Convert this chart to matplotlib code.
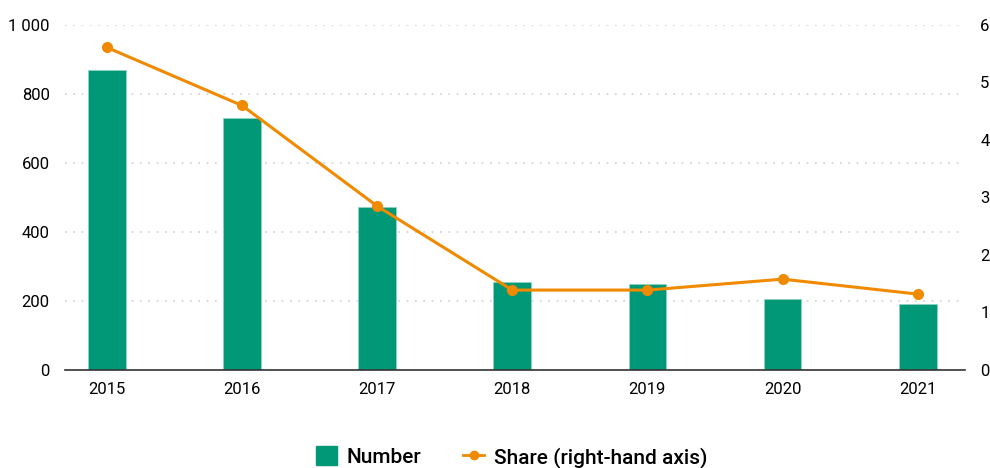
import matplotlib.pyplot as plt
from matplotlib.lines import Line2D
from matplotlib.patches import Patch

years = ["2015", "2016", "2017", "2018", "2019", "2020", "2021"]
number = [870, 729, 473, 256, 249, 205, 192]
share = [5.61, 4.60, 2.85, 1.39, 1.39, 1.58, 1.32]
left_ticks = [0, 200, 400, 600, 800, 1000]
left_labels = ["0", "200", "400", "600", "800", "1 000"]
right_ticks = [0, 1, 2, 3, 4, 5, 6]

plt.rcParams["font.family"] = ["Roboto", "DejaVu Sans"]

green = "#009877"
orange = "#F08A00"

fig = plt.figure(figsize=(9.9, 4.68), dpi=100)
ax = fig.add_axes([65 / 990, 98 / 468, 900 / 990, 345 / 468])
ax2 = ax.twinx()

x = range(len(years))
ax.bar(x, number, width=0.28, color=green, edgecolor="#8fd3c0", linewidth=0.6, zorder=2)
ax2.plot(x, share, color=orange, lw=2.2, marker="o", ms=7, zorder=3, clip_on=False)

ax.set_xlim(-0.31, 6.35)
ax.set_ylim(0, 1000)
ax2.set_ylim(0, 6)
ax.set_xticks(list(x))
ax.set_xticklabels(years, fontsize=12)
ax.set_yticks(left_ticks)
ax.set_yticklabels(left_labels, fontsize=12)
ax2.set_yticks(right_ticks)
ax2.set_yticklabels([str(t) for t in right_ticks], fontsize=12)

for a in (ax, ax2):
    for s in a.spines.values():
        s.set_visible(False)
    a.tick_params(length=0)
ax.spines["bottom"].set_visible(True)
ax.spines["bottom"].set_color("#333333")
ax.spines["bottom"].set_linewidth(1.2)
ax.tick_params(axis="y", pad=11)
ax.tick_params(axis="x", pad=9)
ax2.tick_params(axis="y", pad=11)

ax.yaxis.grid(True, color="#cfcfcf", linestyle=(0, (1, 4)), lw=1.2)
ax.set_axisbelow(True)
ax2.set_zorder(ax.get_zorder() + 1)
ax2.patch.set_visible(False)

handles = [
    Patch(facecolor=green, edgecolor=green, label="Number"),
    Line2D([0], [0], color=orange, lw=2, marker="o", ms=6, label="Share (right-hand axis)"),
]
fig.legend(handles=handles, loc="center", bbox_to_anchor=(0.517, 11 / 468), ncol=2,
           frameon=False, handlelength=1.0, handleheight=1.0,
           columnspacing=2.0, handletextpad=0.5,
           prop={"size": 15, "weight": "medium"})

fig.savefig("out.png", dpi=100)
